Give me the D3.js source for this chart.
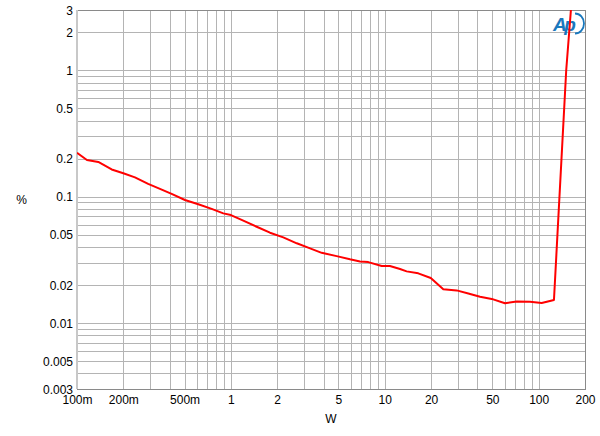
<!DOCTYPE html>
<html><head><meta charset="utf-8">
<script src="https://cdn.jsdelivr.net/npm/d3@7"></script>
<style>
html,body{margin:0;padding:0;background:#fff;}
svg{display:block;}
text{font-family:Arial,"Liberation Sans",sans-serif;}
</style></head>
<body>
<svg id="chart" width="600" height="436"></svg>
<script>
// ---- data ----
const power = [0.1, 0.116, 0.1375, 0.168, 0.2, 0.238, 0.29, 0.346, 0.412, 0.503, 0.614, 0.75, 0.893, 1.0, 1.204, 1.471, 1.795, 2.19, 2.68, 3.27, 3.89, 4.87, 5.94, 6.9, 7.81, 9.55, 10.8, 12.56, 13.87, 16.5, 19.9, 24.0, 29.3, 34.9, 41.6, 49.5, 60.4, 71.9, 87.8, 104.6, 125.7, 151, 162];
const thdn  = [0.222, 0.195, 0.188, 0.164, 0.153, 0.142, 0.126, 0.115, 0.105, 0.094, 0.087, 0.080, 0.0737, 0.0714, 0.0645, 0.0577, 0.0518, 0.0476, 0.0427, 0.0389, 0.0359, 0.0338, 0.0319, 0.0307, 0.0303, 0.0282, 0.0282, 0.0267, 0.0256, 0.0247, 0.0227, 0.0185, 0.0181, 0.0171, 0.0161, 0.0155, 0.0143, 0.0148, 0.0147, 0.0144, 0.0152, 1.0, 3.0];
const xTickValues = [0.1, 0.2, 0.5, 1, 2, 5, 10, 20, 50, 100, 200];
const xTickLabels = ["100m", "200m", "500m", "1", "2", "5", "10", "20", "50", "100", "200"];
const yTickValues = [0.003, 0.005, 0.01, 0.02, 0.05, 0.1, 0.2, 0.5, 1, 2, 3];
const yTickLabels = ["0.003", "0.005", "0.01", "0.02", "0.05", "0.1", "0.2", "0.5", "1", "2", "3"];
const xTitle = "W";
const yTitle = "%";

// ---- layout ----
const L = 77, R = 585, T = 10, B = 389;
const svg = d3.select("#chart");
const x = d3.scaleLog().domain([0.1, 200]).range([L, R]);
const y = d3.scaleLog().domain([0.003, 3]).range([B, T]);

// minor grid values
const xGrid = [], yGrid = [];
[0.1, 1, 10, 100].forEach(d => { for (let m = 1; m <= 9; m++) { const v = +(d * m).toPrecision(3); if (v <= 200 + 1e-9) xGrid.push(v); } });
[0.001, 0.01, 0.1, 1].forEach(d => { for (let m = 1; m <= 9; m++) { const v = +(d * m).toPrecision(3); if (v >= 0.003 - 1e-12 && v <= 3 + 1e-9) yGrid.push(v); } });

const gridColor = "#b4b4b4";
svg.append("g").attr("transform", `translate(0,${B})`)
  .call(d3.axisBottom(x).tickValues(xGrid).tickSize(-(B - T)).tickFormat(""))
  .call(g => g.select(".domain").remove())
  .call(g => g.selectAll("line").attr("stroke", gridColor).attr("shape-rendering", "crispEdges"));
svg.append("g").attr("transform", `translate(${L},0)`)
  .call(d3.axisLeft(y).tickValues(yGrid).tickSize(-(R - L)).tickFormat(""))
  .call(g => g.select(".domain").remove())
  .call(g => g.selectAll("line").attr("stroke", gridColor).attr("shape-rendering", "crispEdges"));

// frame
svg.append("rect").attr("x", L + 0.5).attr("y", T + 0.5).attr("width", R - L).attr("height", B - T)
  .attr("fill", "none").attr("stroke", "#8a8a8a").attr("stroke-width", 1);
svg.append("line").attr("x1", L).attr("x2", L).attr("y1", T).attr("y2", B)
  .attr("stroke", "#c8c8c8").attr("stroke-width", 2);

// tick labels
const xLab = svg.append("g").attr("transform", `translate(0,${B})`)
  .call(d3.axisBottom(x).tickValues(xTickValues).tickSize(0).tickPadding(0)
    .tickFormat((d, i) => xTickLabels[i]));
xLab.select(".domain").remove();
xLab.selectAll("text").attr("font-size", 12).attr("fill", "#000").attr("dy", null).attr("y", 15)
  .attr("font-family", "Arial, 'Liberation Sans', sans-serif");

const yLab = svg.append("g").attr("transform", `translate(${L},0)`)
  .call(d3.axisLeft(y).tickValues(yTickValues).tickSize(0).tickPadding(4)
    .tickFormat((d, i) => yTickLabels[i]));
yLab.select(".domain").remove();
yLab.selectAll("text").attr("font-size", 12).attr("fill", "#000").attr("dy", "0.35em")
  .attr("font-family", "Arial, 'Liberation Sans', sans-serif");

// axis titles
svg.append("text").attr("x", (L + R) / 2).attr("y", 423).attr("text-anchor", "middle")
  .attr("font-size", 12).text(xTitle);
svg.append("text").attr("x", 21.5).attr("y", 204).attr("text-anchor", "middle")
  .attr("font-size", 12).text(yTitle);

// data line
svg.append("clipPath").attr("id", "clip").append("rect")
  .attr("x", L).attr("y", T).attr("width", R - L).attr("height", B - T);
const pts = power.map((p, i) => [p, thdn[i]]);

// Ap logo (drawn beneath the red trace)
const logo = svg.append("g").attr("fill", "#1a78bd");
logo.append("text").attr("x", 553).attr("y", 31).attr("font-size", 19).attr("font-style", "italic")
  .attr("font-weight", "bold")
  .attr("font-family", "Arial, 'Liberation Sans', sans-serif").attr("letter-spacing", -2.5).text("Ap");
logo.append("path").attr("fill", "none").attr("stroke", "#1a78bd").attr("stroke-width", 1.8)
  .attr("d", "M575,13.5 A9,10 0 0 1 575,33.5");

svg.append("path").datum(pts).attr("clip-path", "url(#clip)")
  .attr("fill", "none").attr("stroke", "#ff0000").attr("stroke-width", 2)
  .attr("stroke-linejoin", "round")
  .attr("d", d3.line().x(d => x(d[0])).y(d => y(d[1])));
</script>
</body></html>
